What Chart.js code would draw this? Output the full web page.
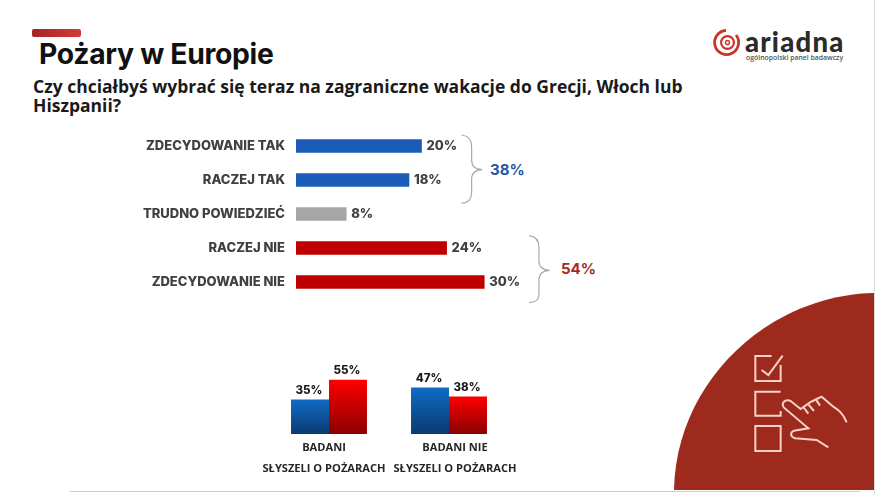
<!DOCTYPE html>
<html lang="pl">
<head>
  <meta charset="utf-8">
  <title>Pożary w Europie</title>
  <script src="https://cdn.jsdelivr.net/npm/chart.js"></script>
  <style>
    html, body { margin: 0; padding: 0; background: #fff; overflow: hidden; }
    #page { position: relative; width: 876px; height: 494px; overflow: hidden; }
    canvas { position: absolute; }
    #answers { left: 0; top: 129px; }
    #groups { left: 249px; top: 355px; }
    #deco { position: absolute; left: 0; top: 0; }
    .txt { position: absolute; white-space: nowrap; }
    #title { left: 39px; top: 37px; font: 700 28.3px/34px Inter, sans-serif; color: #111; letter-spacing: -0.3px; }
    #question { left: 33px; top: 77px; width: 680px; white-space: normal; font: 700 17.5px/19px "Open Sans", sans-serif; color: #1a1a1a; }
    #sum-yes { left: 490px; top: 160px; font: 700 15px/20px Inter, sans-serif; color: #1f57a8; }
    #sum-no { left: 561px; top: 259px; font: 700 15px/20px Inter, sans-serif; color: #a52a22; }
    #logo { left: 745px; top: 25px; font: 900 27.5px/34px Lato, sans-serif; color: #2b2b2b; letter-spacing: 1.2px; }
    #logo-sub { left: 746px; top: 53px; font: 600 6.9px/10px "Open Sans", sans-serif; color: #555; }
  </style>
</head>
<body>
<div id="page">
  <svg id="deco" width="876" height="494">
    <defs>
      <linearGradient id="accent" x1="0" x2="1" y1="0" y2="0">
        <stop offset="0" stop-color="#a32524"/><stop offset="1" stop-color="#d23c38"/>
      </linearGradient>
    </defs>
    <rect x="32" y="29" width="49" height="8" rx="2" fill="url(#accent)"/>
    <line x1="874.5" y1="0" x2="874.5" y2="494" stroke="#dcdcdc"/>
    <line x1="70" y1="491.5" x2="860" y2="491.5" stroke="#cfcfcf"/>
    <!-- corner shape -->
    <path d="M674 490 C676 380 770 295 874 293 L874 490 Z" fill="#9e2a1e"/>
    <!-- braces -->
    <g transform="translate(130 125) scale(.3333)" fill="none" stroke="#a8a8a8" stroke-width="3.5">
      <path d="M995 30 C1015 32 1025 42 1025 65 L1025 105 C1025 122 1035 133 1057 134 C1035 135 1025 146 1025 163 L1025 203 C1025 224 1015 233 995 235"/>
      <path d="M1197 332 C1217 334 1227 344 1227 367 L1227 407 C1227 424 1237 435 1259 436 C1237 437 1227 448 1227 465 L1227 505 C1227 526 1217 531 1197 533"/>
    </g>
    <!-- checklist icon -->
    <g transform="translate(670 285) scale(.3333)" fill="none" stroke="#f6d2c8" stroke-width="6">
      <path d="M305 213 H256 V288 H332 V240"/>
      <path d="M275 255 L295 270 L338 212"/>
      <path d="M332 320 H256 V392 H332 V378"/>
      <rect x="256" y="423" width="76" height="75"/>
      <path d="M530 412 C520 385 505 375 490 365 L455 335 L440 342 L420 352 L392 372 L362 348 C345 340 332 355 342 368 L415 430 L372 437 C360 442 360 455 375 460 L440 465 L475 487"/>
      <path d="M415 358 L432 378 M400 366 L415 386 M438 344 L450 362"/>
    </g>
    <!-- logo rings -->
    <g fill="none" stroke="#c8352c">
      <path d="M736 35 A12 12 0 1 1 726 30.5" stroke-width="2.8"/>
      <circle cx="727.5" cy="42.5" r="6.4" stroke-width="2.2"/>
      <circle cx="727.5" cy="42.5" r="2" stroke-width="1.4"/>
    </g>
  </svg>

  <div class="txt" id="title">Pożary w Europie</div>
  <div class="txt" id="question">Czy chciałbyś wybrać się teraz na zagraniczne wakacje do Grecji, Włoch lub Hiszpanii?</div>
  <div class="txt" id="sum-yes">38%</div>
  <div class="txt" id="sum-no">54%</div>
  <div class="txt" id="logo">ariadna</div>
  <div class="txt" id="logo-sub">ogólnopolski panel badawczy</div>

  <canvas id="answers" width="547" height="170"></canvas>
  <canvas id="groups" width="280" height="125"></canvas>
</div>

<script>
  const answerLabels = ['ZDECYDOWANIE TAK', 'RACZEJ TAK', 'TRUDNO POWIEDZIEĆ', 'RACZEJ NIE', 'ZDECYDOWANIE NIE'];
  const answerValues = [20, 18, 8, 24, 30];
  const answerColors = ['#1b5bb8', '#1b5bb8', '#a6a6a6', '#c00000', '#c00000'];

  const groupLines = [['BADANI', 'SŁYSZELI O POŻARACH'], ['BADANI NIE', 'SŁYSZELI O POŻARACH']];
  const groupNudge = [-5, 6]; // the labels sit slightly off the group centres
  const yesValues = [35, 47];
  const noValues = [55, 38];

  // writes the value next to / above each bar
  const valueLabels = {
    id: 'valueLabels',
    afterDatasetsDraw(chart, args, opts) {
      const ctx = chart.ctx;
      ctx.save();
      ctx.font = opts.font;
      ctx.fillStyle = opts.color;
      chart.data.datasets.forEach((ds, d) => {
        chart.getDatasetMeta(d).data.forEach((bar, i) => {
          if (opts.horizontal) {
            ctx.textAlign = 'left';
            ctx.textBaseline = 'middle';
            ctx.fillText(ds.data[i] + '%', bar.x + 5, bar.y + 0.5);
          } else {
            ctx.textAlign = 'center';
            ctx.textBaseline = 'bottom';
            ctx.fillText(ds.data[i] + '%', bar.x - 1, bar.y - 3);
          }
        });
      });
      ctx.restore();
    }
  };

  // two-line captions under the groups, they are not centred on the bars
  const groupCaptions = {
    id: 'groupCaptions',
    afterDraw(chart) {
      const ctx = chart.ctx;
      const xs = chart.scales.x;
      ctx.save();
      ctx.font = '700 11.1px "Open Sans", sans-serif';
      ctx.fillStyle = '#262626';
      ctx.textAlign = 'center';
      ctx.textBaseline = 'middle';
      groupLines.forEach((lines, i) => {
        const x = xs.getPixelForValue(i) + groupNudge[i];
        ctx.fillText(lines[0], x, chart.chartArea.bottom + 13.5);
        ctx.fillText(lines[1], x, chart.chartArea.bottom + 34.5);
      });
      ctx.restore();
    }
  };

  function barGradient(top, bottom) {
    return (c) => {
      const area = c.chart.chartArea;
      if (!area) return top;
      const base = c.chart.scales.y.getPixelForValue(0);
      const h = c.chart.scales.y.getPixelForValue(c.raw);
      const g = c.chart.ctx.createLinearGradient(0, h, 0, base);
      g.addColorStop(0, top);
      g.addColorStop(1, bottom);
      return g;
    };
  }

  Chart.defaults.animation = false;
  Chart.defaults.responsive = false;

  new Chart(document.getElementById('answers'), {
    type: 'bar',
    data: {
      labels: answerLabels,
      datasets: [{ data: answerValues, backgroundColor: answerColors, barThickness: 13 }]
    },
    options: {
      indexAxis: 'y',
      layout: { padding: 0 },
      plugins: {
        legend: { display: false },
        tooltip: { enabled: false },
        valueLabels: { horizontal: true, font: '800 13px Inter, sans-serif', color: '#404040' }
      },
      scales: {
        x: { display: false, min: 0, max: 40 },
        y: {
          afterFit: (s) => { s.width = 296; s.paddingTop = 0; s.paddingBottom = 0; },
          grid: { display: false },
          border: { display: false },
          ticks: { color: '#404040', padding: 3, font: { family: 'Inter', size: 13, weight: '800' } }
        }
      }
    },
    plugins: [valueLabels]
  });

  new Chart(document.getElementById('groups'), {
    type: 'bar',
    data: {
      labels: groupLines.map((l) => l.join(' ')),
      datasets: [
        { data: yesValues, backgroundColor: barGradient('#0f6cc4', '#0b3a70') },
        { data: noValues, backgroundColor: barGradient('#ff0000', '#8a0000') }
      ]
    },
    options: {
      layout: { padding: { left: 20, right: 20, top: 0, bottom: 46 } },
      datasets: { bar: { categoryPercentage: 0.633, barPercentage: 1 } },
      plugins: {
        legend: { display: false },
        tooltip: { enabled: false },
        valueLabels: { font: '800 11.5px Inter, sans-serif', color: '#1a1a1a' }
      },
      scales: {
        x: { display: false },
        y: { display: false, min: 0, max: 80 }
      }
    },
    plugins: [valueLabels, groupCaptions]
  });
</script>
</body>
</html>
